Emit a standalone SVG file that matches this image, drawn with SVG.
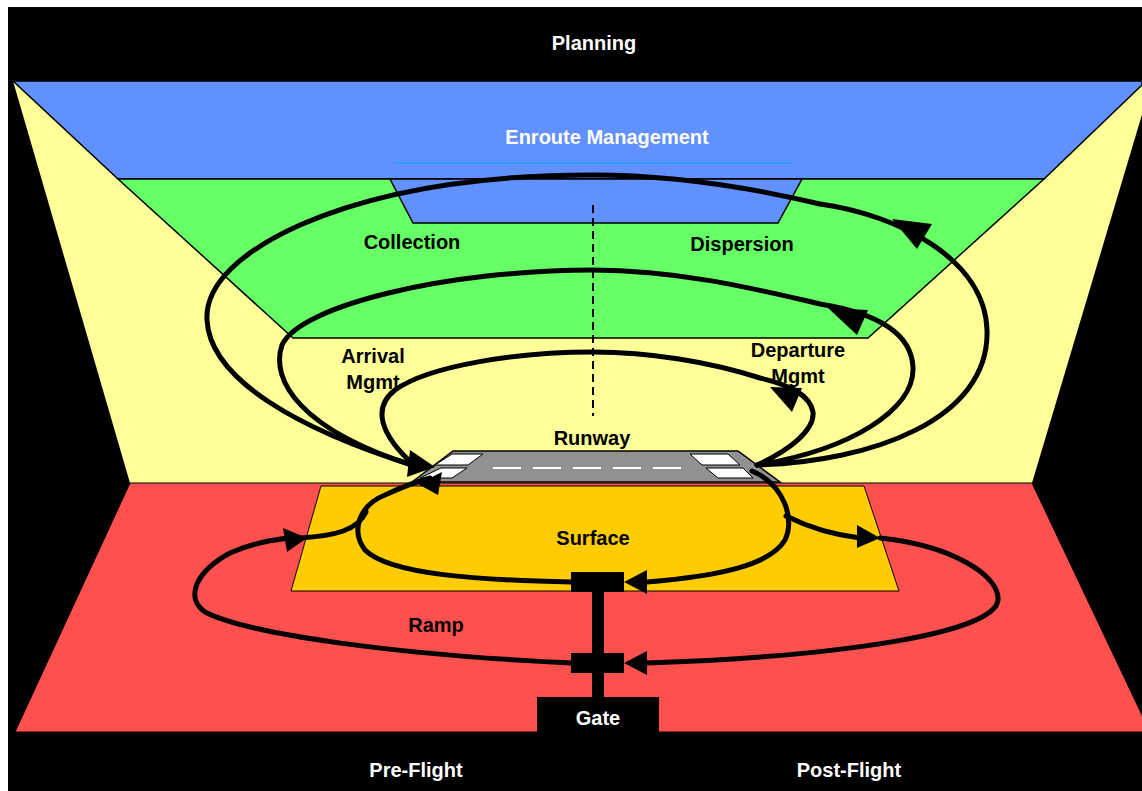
<svg xmlns="http://www.w3.org/2000/svg" width="1142" height="791" viewBox="0 0 1142 791">
<style>
.lbl{font-family:"Liberation Sans",Arial,sans-serif;font-weight:bold;font-size:20px;text-anchor:middle;fill:#000}
.wl{fill:#fff}
.zone{stroke:#000;stroke-width:1.5}
.flow{fill:none;stroke:#000;stroke-width:5;stroke-linecap:round}
.head{fill:#000}
</style>
<rect x="0" y="0" width="1142" height="791" fill="#fff"/>
<rect x="8" y="7" width="1134" height="784" fill="#000"/>
<g id="terminal-yellow">
<polygon points="13,81 1152,81 1032,483 130,483" fill="#FFFF99"/>
</g>
<g id="enroute">
<polygon class="zone" points="13,81 1142,81 1142,85 1044,179 118,179" fill="#6190FF"/>
<line x1="393" y1="163" x2="792" y2="163" stroke="#3399FF" stroke-width="2"/>
<text class="lbl wl" x="607" y="144">Enroute Management</text>
</g>
<g id="collection-dispersion">
<polygon class="zone" points="118,179 1044,179 868,338 293,338" fill="#66FF66"/>
<polygon class="zone" points="390,179 802,179 778,223 413,223" fill="#6190FF"/>
<text class="lbl" x="412" y="249">Collection</text>
<text class="lbl" x="742" y="251">Dispersion</text>
</g>
<g id="arrival-departure">
<text class="lbl" x="373" y="363">Arrival</text>
<text class="lbl" x="373" y="389">Mgmt</text>
<text class="lbl" x="798" y="357">Departure</text>
<text class="lbl" x="798" y="383">Mgmt</text>
<line x1="593" y1="205" x2="593" y2="416" stroke="#000" stroke-width="2" stroke-dasharray="8,5"/>
</g>
<g id="ramp">
<polygon points="130,483 1032,483 1150,732 15,732" fill="#FF5050" stroke="#000" stroke-width="1"/>
<text class="lbl" x="436" y="632">Ramp</text>
</g>
<g id="surface">
<polygon points="321,486 864,486 899,591 291,591" fill="#FFCC00" stroke="#000" stroke-width="1"/>
<text class="lbl" x="593" y="545">Surface</text>
</g>
<g id="runway">
<polygon points="453,451 738,451 780,482 412,482" fill="#919191" stroke="#000" stroke-width="1.5"/>
<polygon points="452,454 483,454 468,465 435,465" fill="#fff" stroke="#000" stroke-width="1"/>
<polygon points="441,468 467,468 452,478 420,478" fill="#fff" stroke="#000" stroke-width="1"/>
<polygon points="690,454 728,454 740,465 702,465" fill="#fff" stroke="#000" stroke-width="1"/>
<polygon points="706,468 743,468 753,478 718,478" fill="#fff" stroke="#000" stroke-width="1"/>
<line x1="493" y1="468" x2="682" y2="468" stroke="#fff" stroke-width="2" stroke-dasharray="28,12"/>
<text class="lbl" x="592" y="445">Runway</text>
</g>
<g id="planning">
<text class="lbl wl" x="594" y="50">Planning</text>
</g>
<g id="phases">
<text class="lbl wl" x="416" y="777">Pre-Flight</text>
<text class="lbl wl" x="849" y="777">Post-Flight</text>
</g>
<g id="connectors">
<path class="flow" d="M757,465 C870,462 990,420 987,330 C985,260 900,215 820,204 C740,185 660,175 593,175 C480,175 380,190 300,225 C240,252 205,285 207,320 C210,380 300,430 415,466"/>
<path class="flow" d="M757,465 C850,450 915,410 913,367 C911,330 870,312 820,304 C760,290 680,270 593,270 C450,270 300,305 282,345 C270,380 300,430 415,466"/>
<path class="flow" d="M757,465 C790,450 815,430 813,412 C810,395 790,385 760,378 C710,362 650,352 593,352 C520,352 430,365 395,390 C372,408 380,435 415,466"/>
<path class="flow" d="M752,471 C785,485 795,520 785,540 C770,565 720,576 647,582"/>
<path class="flow" d="M571,582 C480,580 390,575 365,550 C350,530 360,505 385,495 C400,488 415,482 430,478"/>
<path class="flow" d="M786,516 C810,528 835,535 860,538"/>
<path class="flow" d="M880,538 C950,545 1000,575 998,600 C995,632 850,656 647,663"/>
<path class="flow" d="M571,663 C400,655 250,635 205,612 C185,598 195,572 230,553 C250,544 270,540 290,538"/>
<path class="flow" d="M300,538 C335,536 358,530 366,512"/>
<polygon class="head" points="892,219 932,224 917,249"/>
<polygon class="head" points="828,308 868,310 857,335"/>
<polygon class="head" points="770,387 802,388 792,412"/>
<polygon class="head" points="435,467 410,450 407,477"/>
<polygon class="head" points="442,472 418,484 438,495"/>
<polygon class="head" points="283,528 307,538 287,552"/>
<polygon class="head" points="857,525 880,538 857,548"/>
<polygon class="head" points="624,582 647,570 647,594"/>
<polygon class="head" points="624,663 647,651 647,675"/>
</g>
<g id="gate">
<rect x="592" y="573" width="12" height="125" fill="#000"/>
<rect x="571" y="572" width="53" height="20" fill="#000"/>
<rect x="571" y="653" width="53" height="20" fill="#000"/>
<rect x="537" y="697" width="122" height="35" fill="#000"/>
<text class="lbl wl" x="598" y="725">Gate</text>
</g>
</svg>
